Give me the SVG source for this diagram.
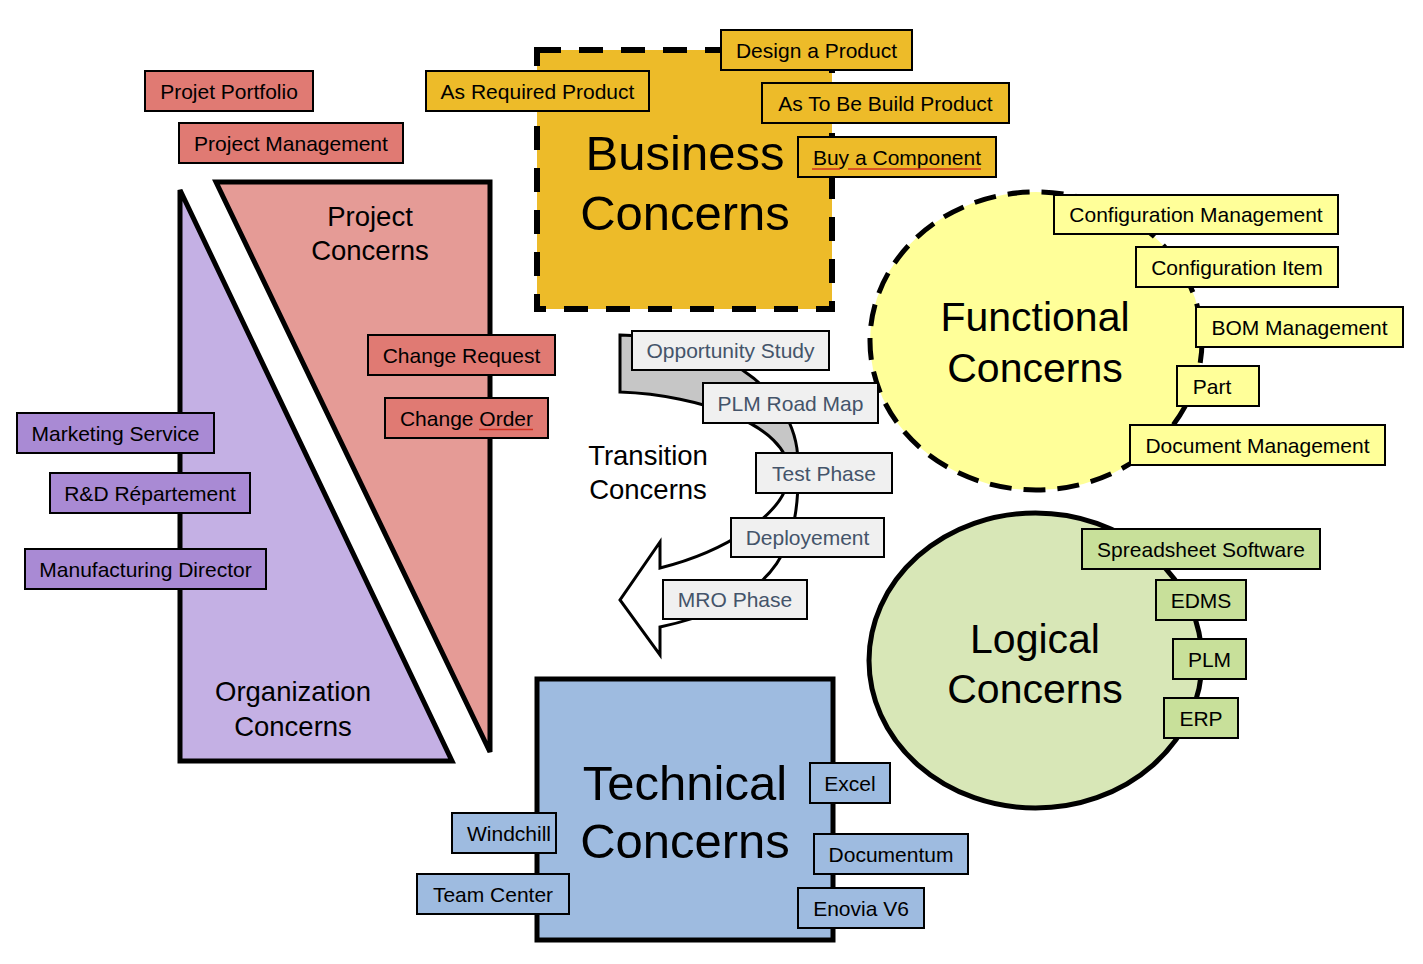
<svg xmlns="http://www.w3.org/2000/svg" width="1423" height="964" viewBox="0 0 1423 964">
<defs>
<style>
text{font-family:"Liberation Sans",Arial,sans-serif;text-anchor:middle;fill:#000}
.l{font-size:21px}
.m{font-size:27.5px}
.b{font-size:49px}
.f{font-size:41px}
.box{stroke:#000;stroke-width:2}
.big{stroke:#000;stroke-width:5;stroke-linejoin:miter}
.yel{fill:#EDBB29}.red{fill:#E07A73}.pur{fill:#A98AD4}.gry{fill:#F0F0F0}.lyel{fill:#FFFF99}.grn{fill:#C8E09A}.blu{fill:#9EBBE0}
.gt{fill:#44546A}
.sp{stroke:#D03020;stroke-width:1.3;fill:none}
</style>
<linearGradient id="arrowFill" gradientUnits="userSpaceOnUse" x1="0" y1="335" x2="0" y2="655">
<stop offset="0.43" stop-color="#C6C6C6"/>
<stop offset="0.45" stop-color="#FFFFFF"/>
</linearGradient>
</defs>

<g id="organization-concerns">
<polygon class="big" fill="#C4B0E4" points="180,190 180,761 452,761"/>
<text class="m" x="293" y="701">Organization</text>
<text class="m" x="293" y="736">Concerns</text>
</g>

<g id="project-concerns">
<polygon class="big" fill="#E59B96" points="216,182 490,182 490,752"/>
<text class="m" x="370" y="226">Project</text>
<text class="m" x="370" y="260">Concerns</text>
</g>

<g id="business-concerns">
<rect x="537" y="50" width="295" height="259" fill="#EDBB29" stroke="#000" stroke-width="6" stroke-dasharray="24 18"/>
<text class="b" x="685" y="170">Business</text>
<text class="b" x="685" y="230">Concerns</text>
</g>

<g id="functional-concerns">
<ellipse cx="1036" cy="341" rx="166" ry="149" fill="#FFFF99" stroke="#000" stroke-width="5" stroke-dasharray="22 12"/>
<text class="f" x="1035" y="331">Functional</text>
<text class="f" x="1035" y="382">Concerns</text>
</g>

<g id="logical-concerns">
<ellipse cx="1035.5" cy="660.5" rx="166.5" ry="147.5" fill="#D8E7B7" stroke="#000" stroke-width="5"/>
<text class="f" x="1035" y="653">Logical</text>
<text class="f" x="1035" y="703">Concerns</text>
</g>

<g id="technical-concerns">
<rect class="big" x="537" y="679" width="296" height="261" fill="#9EBBE0"/>
<text class="b" x="685" y="800">Technical</text>
<text class="b" x="685" y="858">Concerns</text>
</g>

<g id="transition-concerns">
<path fill="url(#arrowFill)" stroke="#000" stroke-width="3" stroke-linejoin="miter" d="M620,335 C710,336 797,385 798,462 C800,540 785,600 660,627 L660,655 L620,600 L660,542 L660,568 C720,553 789,515 789,472 C788,425 700,395 620,392 Z"/>
<text class="m" x="648" y="465">Transition</text>
<text class="m" x="648" y="499">Concerns</text>
</g>

<g id="connectors"></g>

<!-- Business labels -->
<g id="lbl-design-a-product"><rect class="box yel" x="721" y="30" width="191" height="40"/><text class="l" x="816.5" y="58">Design a Product</text></g>
<g id="lbl-as-required-product"><rect class="box yel" x="426" y="71" width="223" height="40"/><text class="l" x="537.5" y="99">As Required Product</text></g>
<g id="lbl-as-to-be-build-product"><rect class="box yel" x="762" y="83" width="247" height="40"/><text class="l" x="885.5" y="111">As To Be Build Product</text></g>
<g id="lbl-buy-a-component"><rect class="box yel" x="798" y="137" width="198" height="40"/><text class="l" x="897" y="165">Buy a Component</text>
<path class="sp" d="M812,169 L840,169 M848,169 L981,169"/></g>

<!-- Project labels -->
<g id="lbl-projet-portfolio"><rect class="box red" x="145" y="71" width="168" height="40"/><text class="l" x="229" y="99">Projet Portfolio</text></g>
<g id="lbl-project-management"><rect class="box red" x="179" y="123" width="224" height="40"/><text class="l" x="291" y="151">Project Management</text></g>
<g id="lbl-change-request"><rect class="box red" x="368" y="335" width="187" height="40"/><text class="l" x="461.5" y="363">Change Request</text></g>
<g id="lbl-change-order"><rect class="box red" x="385" y="398" width="163" height="40"/><text class="l" x="466.5" y="426">Change Order</text>
<path class="sp" d="M479,429.5 L533,429.5"/></g>

<!-- Organization labels -->
<g id="lbl-marketing-service"><rect class="box pur" x="17" y="413" width="197" height="40"/><text class="l" x="115.5" y="441">Marketing Service</text></g>
<g id="lbl-rd-repartement"><rect class="box pur" x="50" y="473" width="200" height="40"/><text class="l" x="150" y="501">R&amp;D Répartement</text></g>
<g id="lbl-manufacturing-director"><rect class="box pur" x="25" y="549" width="241" height="40"/><text class="l" x="145.5" y="577">Manufacturing Director</text></g>

<!-- Transition labels -->
<g id="lbl-opportunity-study"><rect class="box gry" x="632" y="331" width="197" height="39"/><text class="l gt" x="730.5" y="358">Opportunity Study</text></g>
<g id="lbl-plm-road-map"><rect class="box gry" x="703" y="383" width="175" height="40"/><text class="l gt" x="790.5" y="411">PLM Road Map</text></g>
<g id="lbl-test-phase"><rect class="box gry" x="756" y="453" width="136" height="40"/><text class="l gt" x="824" y="481">Test Phase</text></g>
<g id="lbl-deployement"><rect class="box gry" x="731" y="518" width="153" height="39"/><text class="l gt" x="807.5" y="545">Deployement</text></g>
<g id="lbl-mro-phase"><rect class="box gry" x="663" y="580" width="144" height="39"/><text class="l gt" x="735" y="607">MRO Phase</text></g>

<!-- Functional labels -->
<g id="lbl-configuration-management"><rect class="box lyel" x="1054" y="195" width="284" height="39"/><text class="l" x="1196" y="222">Configuration Management</text></g>
<g id="lbl-configuration-item"><rect class="box lyel" x="1136" y="247" width="202" height="40"/><text class="l" x="1237" y="275">Configuration Item</text></g>
<g id="lbl-bom-management"><rect class="box lyel" x="1196" y="307" width="207" height="40"/><text class="l" x="1299.5" y="335">BOM Management</text></g>
<g id="lbl-part"><rect class="box lyel" x="1177" y="366" width="82" height="40"/><text class="l" x="1212" y="394">Part</text></g>
<g id="lbl-document-management"><rect class="box lyel" x="1130" y="425" width="255" height="40"/><text class="l" x="1257.5" y="453">Document Management</text></g>

<!-- Logical labels -->
<g id="lbl-spreadsheet-software"><rect class="box grn" x="1082" y="529" width="238" height="40"/><text class="l" x="1201" y="557">Spreadsheet Software</text></g>
<g id="lbl-edms"><rect class="box grn" x="1156" y="580" width="90" height="40"/><text class="l" x="1201" y="608">EDMS</text></g>
<g id="lbl-plm"><rect class="box grn" x="1173" y="639" width="73" height="40"/><text class="l" x="1209.5" y="667">PLM</text></g>
<g id="lbl-erp"><rect class="box grn" x="1164" y="698" width="74" height="40"/><text class="l" x="1201" y="726">ERP</text></g>

<!-- Technical labels -->
<g id="lbl-excel"><rect class="box blu" x="810" y="763" width="80" height="40"/><text class="l" x="850" y="791">Excel</text></g>
<g id="lbl-windchill"><rect class="box blu" x="452" y="813" width="104" height="40"/><text class="l" x="509" y="841">Windchill</text></g>
<g id="lbl-documentum"><rect class="box blu" x="814" y="834" width="154" height="40"/><text class="l" x="891" y="862">Documentum</text></g>
<g id="lbl-team-center"><rect class="box blu" x="417" y="874" width="152" height="40"/><text class="l" x="493" y="902">Team Center</text></g>
<g id="lbl-enovia-v6"><rect class="box blu" x="798" y="888" width="126" height="40"/><text class="l" x="861" y="916">Enovia V6</text></g>
</svg>
